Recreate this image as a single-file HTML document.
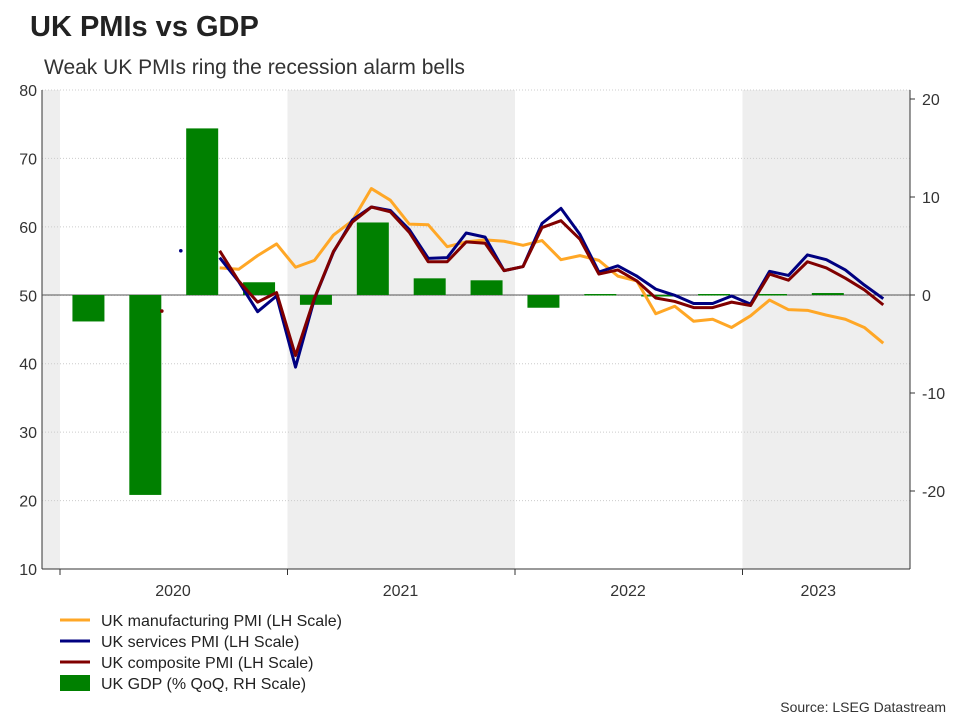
<!DOCTYPE html>
<html><head><meta charset="utf-8"><style>
body{margin:0;background:#fff;font-family:"Liberation Sans",Arial,sans-serif;}
svg text{font-family:"Liberation Sans",Arial,sans-serif;}
</style></head><body>
<svg id="c" width="960" height="720" xmlns="http://www.w3.org/2000/svg">
<text x="30" y="36" font-size="29" font-weight="bold" fill="#222">UK PMIs vs GDP</text>
<text x="44" y="74" font-size="21" fill="#333">Weak UK PMIs ring the recession alarm bells</text>
<g id="plot"></g>
<text x="946" y="712" font-size="14" fill="#333" text-anchor="end">Source: LSEG Datastream</text>
</svg>
<script>
const mfg=[54,53.8,55.8,57.5,54.1,55.1,58.8,60.9,65.6,63.9,60.4,60.3,57.1,57.8,58.1,57.9,57.3,58,55.2,55.8,55.1,52.8,52.1,47.3,48.4,46.2,46.5,45.3,47,49.3,47.9,47.8,47.1,46.5,45.3,43];
const services=[55.5,52,47.6,49.9,39.5,49.5,56.3,61,62.9,62.4,59.6,55.4,55.5,59.1,58.5,53.6,54.2,60.5,62.7,58.9,53.4,54.3,52.8,50.9,50,48.8,48.8,49.9,48.7,53.5,52.9,55.9,55.2,53.7,51.5,49.5];
const composite=[56.5,52.1,49,50.4,41.2,49.6,56.4,60.7,62.9,62.2,59.2,54.9,54.9,57.8,57.6,53.6,54.2,59.9,60.9,58.2,53.1,53.7,52.1,49.6,49.1,48.2,48.2,49,48.5,53.1,52.2,54.9,54,52.5,50.8,48.6];
const lineStart=8;
const servicesDot=[5,56.5];
const compositeDot=[4,47.7];
const gdp=[-2.7,-20.4,17,1.3,-1,7.4,1.7,1.5,-1.3,0.1,-0.1,0.1,0.1,0.2];
const years=["2020","2021","2022","2023"];
const leftTicks=[10,20,30,40,50,60,70,80];
const rightTicks=[-20,-10,0,10,20];

const svg=document.getElementById('plot');
const NS="http://www.w3.org/2000/svg";
const X0=42,X1=910,Y0=90,Y1=569;
const yL=v=>Y1-(v-10)*(Y1-Y0)/70;
const yR=v=>295-v*9.8;
const yearX=y=>60+y*227.5;
const mX=i=>60+i*18.96+8;
const qX=q=>60+(q+0.5)*56.875;
function el(t,a,p){const e=document.createElementNS(NS,t);for(const k in a)e.setAttribute(k,a[k]);(p||svg).appendChild(e);return e;}

let r;
r=el('rect',{x:X0,y:Y0,width:18,height:Y1-Y0,fill:'#eeeeee'});

[1,3].forEach(k=>{const s=el('rect',{x:yearX(k),y:Y0,width:(k==3?X1:yearX(k+1))-yearX(k),height:Y1-Y0,fill:'#eeeeee'});

});
leftTicks.forEach(v=>{const g=el('line',{x1:X0,x2:X1,y1:yL(v),y2:yL(v),stroke:'#ccc','stroke-dasharray':'1,2','stroke-width':1});


const t=el('text',{x:X0-5,y:yL(v)+6,'font-size':16,fill:'#333','text-anchor':'end'});t.textContent=v;

});
rightTicks.forEach(v=>{const t=el('text',{x:X1+12,y:yR(v)+6,'font-size':16,fill:'#333'});t.textContent=v;


el('line',{x1:X1,x2:X1+5,y1:yR(v),y2:yR(v),stroke:'#333'});});
el('line',{x1:X0,x2:X0,y1:Y0,y2:Y1,stroke:'#333'});
el('line',{x1:X1,x2:X1,y1:Y0,y2:Y1,stroke:'#333'});
el('line',{x1:X0,x2:X1,y1:Y1,y2:Y1,stroke:'#333'});
el('line',{x1:X0,x2:X1,y1:yR(0),y2:yR(0),stroke:'#555','stroke-width':1});
years.forEach((y,k)=>{el('line',{x1:yearX(k),x2:yearX(k),y1:Y1,y2:Y1+6,stroke:'#333'});
const t=el('text',{x:k==3?(yearX(3)+X1)/2-8:yearX(k)+113,y:Y1+27,'font-size':16,fill:'#333','text-anchor':'middle'});t.textContent=y;

});
gdp.forEach((v,q)=>{const b=el('rect',{x:qX(q)-16,width:32,y:Math.min(yR(v),yR(0)),height:Math.max(1.5,Math.abs(yR(v)-yR(0))),fill:'#008000'});

});
function line(arr,col,name){const p=el('polyline',{points:arr.map((v,i)=>mX(i+lineStart)+','+yL(v)).join(' '),fill:'none',stroke:col,'stroke-width':3,'stroke-linejoin':'round'});

}
line(mfg,'#ffa726','manufacturing-line');
line(services,'#000080','services-line');
line(composite,'#800000','composite-line');
let d=el('circle',{cx:mX(servicesDot[0])+18,cy:yL(servicesDot[1]),r:1.8,fill:'#000080'});

d=el('circle',{cx:mX(compositeDot[0])+18,cy:yL(compositeDot[1]),r:1.8,fill:'#800000'});

const leg=[['UK manufacturing PMI (LH Scale)','#ffa726','l'],['UK services PMI (LH Scale)','#000080','l'],['UK composite PMI (LH Scale)','#800000','l'],['UK GDP (% QoQ, RH Scale)','#008000','b']];
leg.forEach((e,k)=>{const y=620+k*21;
if(e[2]=='l'){const m=el('line',{x1:60,x2:90,y1:y,y2:y,stroke:e[1],'stroke-width':3});}
else{const m=el('rect',{x:60,y:y-8,width:30,height:16,fill:e[1]});}
const t=el('text',{x:101,y:y+6,'font-size':16,fill:'#222'});t.textContent=e[0];

});
</script>
</body></html>
